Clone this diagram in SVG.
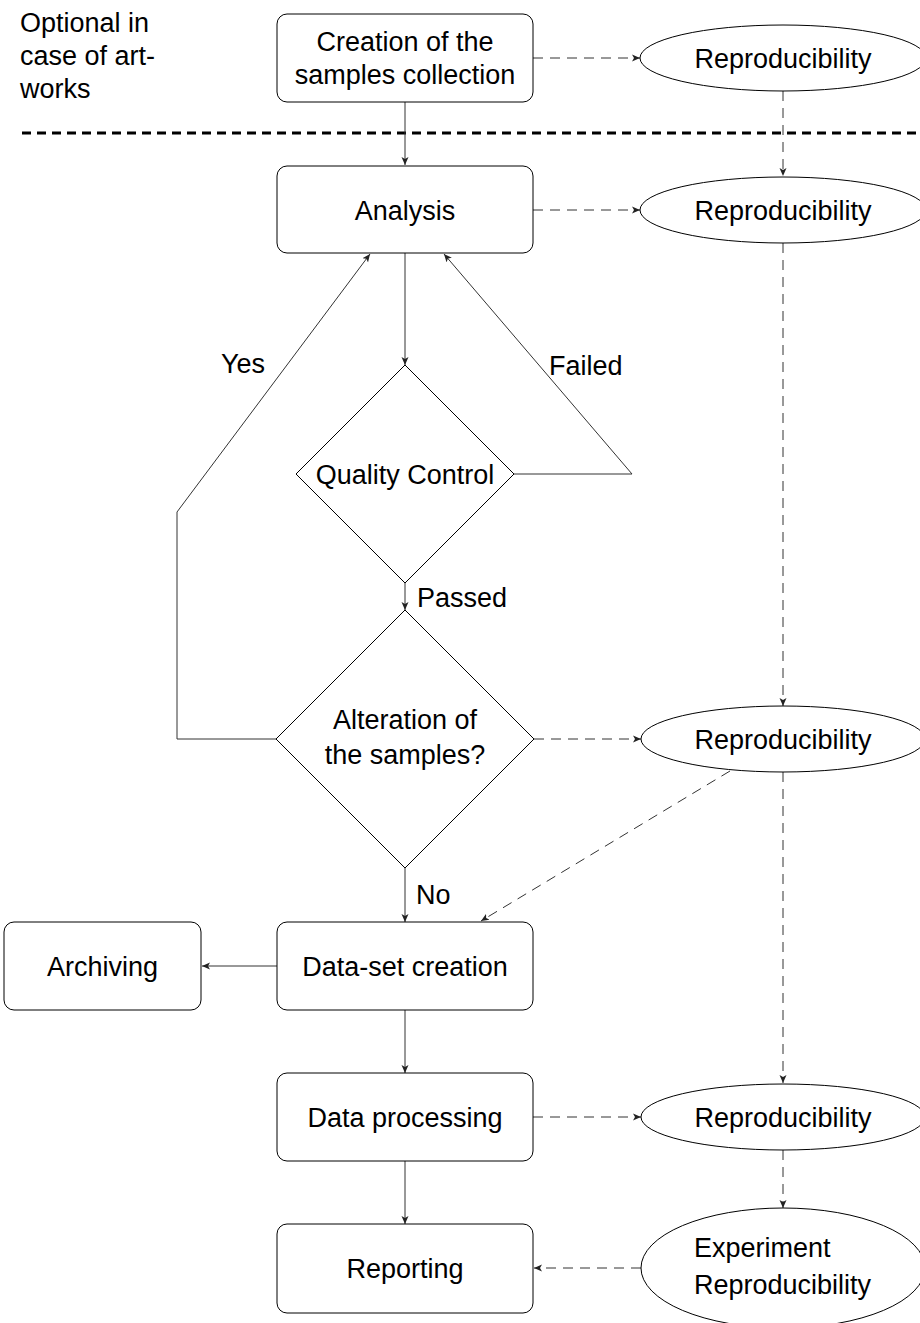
<svg xmlns="http://www.w3.org/2000/svg" width="920" height="1323" viewBox="0 0 920 1323">
<style>
text{font-family:"Liberation Sans",Arial,sans-serif;font-size:27px;fill:#000}
.c{text-anchor:middle}
.box{fill:#fff;stroke:#000;stroke-width:1}
.ln{fill:none;stroke:#333;stroke-width:1;marker-end:url(#ah)}
.ds{fill:none;stroke:#333;stroke-width:1;stroke-dasharray:10 7;marker-end:url(#ah)}
.sep{fill:none;stroke:#000;stroke-width:3.2;stroke-dasharray:9 6}
</style>
<defs>
<marker id="ah" markerUnits="userSpaceOnUse" markerWidth="10" markerHeight="8" viewBox="-8 -4 10 8" refX="0" refY="0" orient="auto">
<path d="M-8,-3.5 L0,0 L-8,3.5 L-6,0 Z" fill="#222"/>
</marker>
</defs>
<rect width="920" height="1323" fill="#fff"/>
<g id="note"><text x="20" y="32">Optional in</text><text x="20" y="65">case of art-</text><text x="20" y="98">works</text></g>
<line class="sep" x1="22" y1="133" x2="920" y2="133"/>
<g id="connectors">
<line class="ln" x1="405" y1="102" x2="405" y2="165"/>
<line class="ds" x1="533" y1="58" x2="640" y2="58"/>
<line class="ds" x1="783" y1="91" x2="783" y2="176"/>
<line class="ds" x1="533" y1="210" x2="640" y2="210"/>
<line class="ln" x1="405" y1="253" x2="405" y2="365"/>
<polyline class="ln" points="514,474 632,474 444,254"/>
<line class="ln" x1="405" y1="583" x2="405" y2="610"/>
<polyline class="ln" points="276,739 177,739 177,512 370,254"/>
<line class="ds" x1="534" y1="739" x2="641" y2="739"/>
<line class="ds" x1="783" y1="243" x2="783" y2="706"/>
<line class="ln" x1="405" y1="868" x2="405" y2="922"/>
<line class="ds" x1="730" y1="771" x2="481" y2="921"/>
<line class="ln" x1="277" y1="966" x2="202" y2="966"/>
<line class="ds" x1="783" y1="772" x2="783" y2="1083"/>
<line class="ln" x1="405" y1="1010" x2="405" y2="1073"/>
<line class="ds" x1="533" y1="1117" x2="641" y2="1117"/>
<line class="ds" x1="783" y1="1150" x2="783" y2="1208"/>
<line class="ln" x1="405" y1="1161" x2="405" y2="1224"/>
<line class="ds" x1="641" y1="1268" x2="534" y2="1268"/>
<text x="243" y="373" class="c">Yes</text>
<text x="549" y="375">Failed</text>
<text x="417" y="607">Passed</text>
<text x="416" y="904">No</text>
</g>
<g id="creation"><rect class="box" x="277" y="14" width="256" height="88" rx="10"/><text x="405" y="51" class="c">Creation of the</text><text x="405" y="84" class="c">samples collection</text></g>
<g id="repro1"><ellipse class="box" cx="783" cy="58" rx="143" ry="33"/><text x="783" y="67.5" class="c">Reproducibility</text></g>
<g id="analysis"><rect class="box" x="277" y="166" width="256" height="87" rx="10"/><text x="405" y="219.5" class="c">Analysis</text></g>
<g id="repro2"><ellipse class="box" cx="783" cy="210" rx="143" ry="33"/><text x="783" y="219.5" class="c">Reproducibility</text></g>
<g id="quality"><polygon class="box" points="405,365 514,474 405,583 296,474"/><text x="405" y="483.5" class="c">Quality Control</text></g>
<g id="alteration"><polygon class="box" points="405,610 534,739 405,868 276,739"/><text x="405" y="729" class="c">Alteration of</text><text x="405" y="764" class="c">the samples?</text></g>
<g id="repro3"><ellipse class="box" cx="783" cy="739" rx="142" ry="33"/><text x="783" y="748.5" class="c">Reproducibility</text></g>
<g id="archiving"><rect class="box" x="4" y="922" width="197" height="88" rx="10"/><text x="102.5" y="975.5" class="c">Archiving</text></g>
<g id="dataset"><rect class="box" x="277" y="922" width="256" height="88" rx="10"/><text x="405" y="975.5" class="c">Data-set creation</text></g>
<g id="processing"><rect class="box" x="277" y="1073" width="256" height="88" rx="10"/><text x="405" y="1126.5" class="c">Data processing</text></g>
<g id="repro4"><ellipse class="box" cx="783" cy="1117" rx="142" ry="33"/><text x="783" y="1126.5" class="c">Reproducibility</text></g>
<g id="reporting"><rect class="box" x="277" y="1224" width="256" height="89" rx="10"/><text x="405" y="1277.5" class="c">Reporting</text></g>
<g id="exprepro"><ellipse class="box" cx="783" cy="1268" rx="142" ry="60"/><text x="694" y="1257">Experiment</text><text x="694" y="1294">Reproducibility</text></g>
</svg>
